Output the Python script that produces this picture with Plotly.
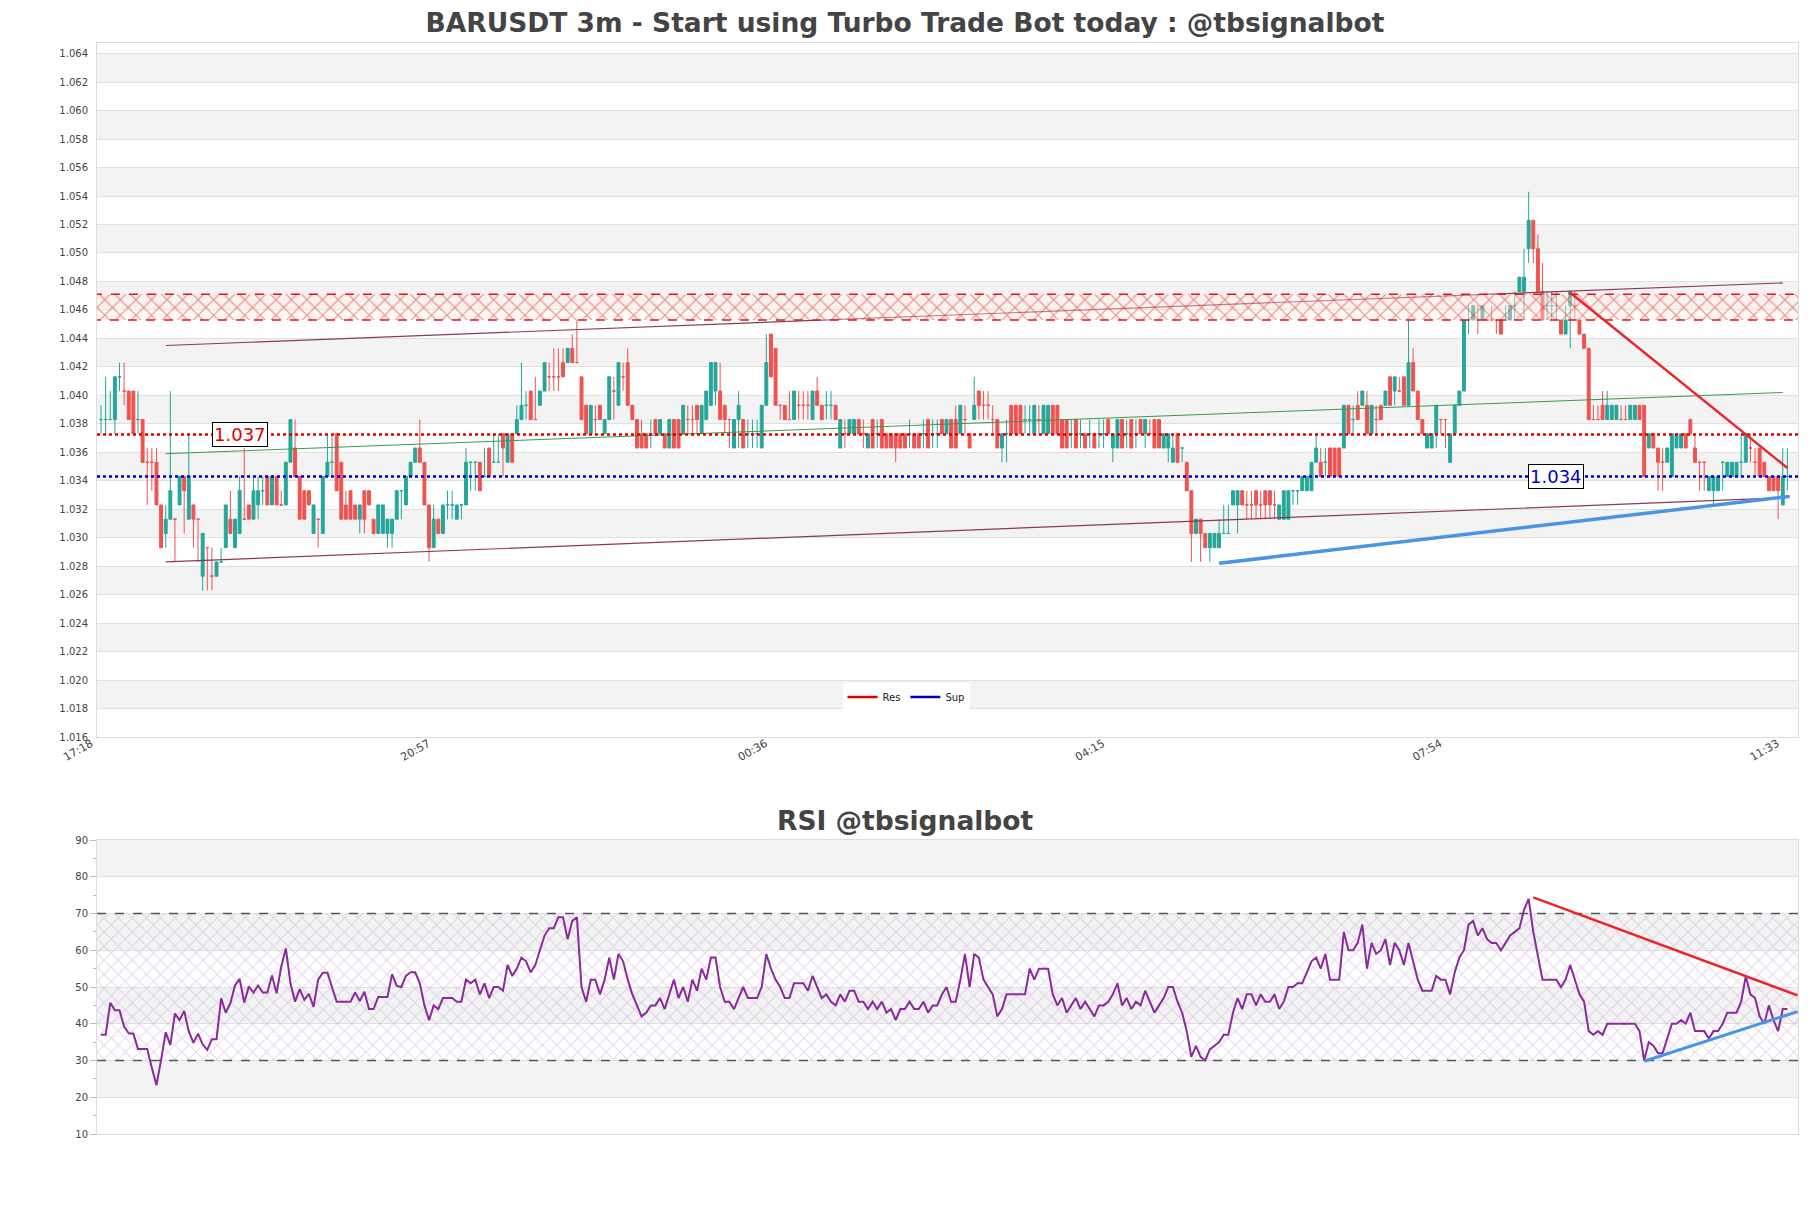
import plotly.graph_objects as go

# ---------------- data ----------------
tick_idx = [0, 73, 146, 219, 292, 365]
tick_labels = ["17:18", "20:57", "00:36", "04:15", "07:54", "11:33"]
price_ticks = [1.016, 1.018, 1.020, 1.022, 1.024, 1.026, 1.028, 1.030, 1.032, 1.034, 1.036, 1.038,
               1.040, 1.042, 1.044, 1.046, 1.048, 1.050, 1.052, 1.054, 1.056, 1.058, 1.060, 1.062, 1.064]
rsi_ticks = [10, 20, 30, 40, 50, 60, 70, 80, 90]

opens = [
 1.0383,1.0383,1.0383,1.0383,1.0413,1.0403,1.0403,1.0403,1.0383,1.0383,
 1.0353,1.0353,1.0353,1.0323,1.0303,1.0313,1.0313,1.0323,1.0343,1.0313,
 1.0323,1.0313,1.0273,1.0293,1.0273,1.0273,1.0283,1.0293,1.0313,1.0293,
 1.0303,1.0313,1.0323,1.0313,1.0323,1.0333,1.0343,1.0323,1.0343,1.0323,
 1.0323,1.0353,1.0363,1.0343,1.0333,1.0333,1.0303,1.0313,1.0303,1.0343,
 1.0353,1.0373,1.0353,1.0323,1.0333,1.0323,1.0313,1.0333,1.0333,1.0313,
 1.0303,1.0303,
 1.0303,1.0303,1.0313,1.0333,1.0323,1.0343,1.0353,1.0363,1.0353,1.0323,
 1.0293,1.0313,1.0303,1.0323,1.0323,1.0313,1.0323,1.0323,1.0353,1.0353,
 1.0353,1.0343,1.0363,1.0353,1.0353,1.0373,1.0353,1.0373,1.0373,1.0383,
 1.0393,1.0403,1.0383,1.0393,1.0403,1.0413,1.0413,1.0413,1.0423,1.0423,
 1.0433,1.0423,1.0413,1.0393,1.0373,1.0383,1.0393,1.0373,1.0383,1.0403,
 1.0393,1.0413,1.0423,1.0393,1.0383,1.0373,1.0373,1.0373,1.0383,1.0373,
 1.0373,
 1.0363,1.0383,1.0383,1.0373,1.0383,1.0383,1.0393,1.0373,1.0383,1.0393,
 1.0403,1.0403,1.0393,1.0383,1.0363,1.0383,1.0383,1.0373,1.0373,1.0373,
 1.0363,1.0393,1.0443,1.0433,1.0393,1.0393,1.0383,1.0383,1.0393,1.0393,
 1.0393,1.0383,1.0403,1.0393,1.0393,1.0393,1.0393,1.0363,1.0373,1.0373,
 1.0373,1.0383,1.0373,1.0363,1.0383,1.0373,1.0383,1.0373,1.0373,1.0373,
 1.0373,1.0373,1.0373,1.0373,1.0373,1.0373,1.0383,1.0373,1.0373,1.0383,
 1.0373,1.0383,
 1.0383,1.0373,1.0383,1.0373,1.0383,1.0403,1.0393,1.0393,1.0383,1.0383,
 1.0363,1.0373,1.0393,1.0393,1.0393,1.0383,1.0383,1.0373,1.0383,1.0373,
 1.0373,1.0393,1.0393,1.0383,1.0383,1.0373,1.0383,1.0373,1.0373,1.0373,
 1.0373,1.0373,1.0373,1.0383,1.0363,1.0363,1.0383,1.0373,1.0383,1.0373,
 1.0383,1.0373,1.0373,1.0383,1.0383,1.0363,1.0363,1.0353,1.0373,1.0363,
 1.0353,1.0333,1.0303,1.0313,1.0303,1.0293,1.0293,1.0293,1.0303,1.0303,
 1.0323,
 1.0323,1.0333,1.0323,1.0323,1.0333,1.0323,1.0333,1.0333,1.0323,1.0313,
 1.0313,1.0313,1.0333,1.0333,1.0333,1.0333,1.0333,1.0353,1.0353,1.0353,
 1.0363,1.0363,1.0363,1.0363,1.0393,1.0383,1.0393,1.0393,1.0393,1.0373,
 1.0383,1.0393,1.0393,1.0413,1.0403,1.0403,1.0413,1.0393,1.0423,1.0403,
 1.0383,1.0363,1.0363,1.0373,1.0383,1.0383,1.0353,1.0373,1.0393,1.0403,
 1.0453,1.0453,1.0453,1.0453,1.0453,1.0453,1.0453,1.0453,1.0453,1.0453,
 1.0463,1.0473,
 1.0473,1.0503,1.0523,1.0503,1.0473,1.0463,1.0463,1.0463,1.0453,1.0443,
 1.0463,1.0463,1.0453,1.0443,1.0433,1.0383,1.0383,1.0393,1.0383,1.0383,
 1.0383,1.0383,1.0383,1.0383,1.0383,1.0393,1.0393,1.0363,1.0373,1.0363,
 1.0353,1.0353,1.0343,1.0363,1.0363,1.0373,1.0383,1.0363,1.0353,1.0353,
 1.0333,1.0333,1.0333,1.0353,1.0343,1.0343,1.0343,1.0353,1.0353,1.0363,
 1.0353,1.0363,1.0353,1.0343,1.0343,1.0343,1.0323,1.0343,
]

closes = [
 1.0383,1.0383,1.0383,1.0413,1.0413,1.0403,1.0383,1.0373,1.0383,1.0353,
 1.0353,1.0353,1.0323,1.0293,1.0313,1.0333,1.0313,1.0343,1.0333,1.0343,
 1.0313,1.0313,1.0303,1.0293,1.0273,1.0283,1.0283,1.0323,1.0303,1.0313,
 1.0333,1.0313,1.0313,1.0333,1.0333,1.0333,1.0323,1.0343,1.0323,1.0323,
 1.0353,1.0383,1.0343,1.0313,1.0313,1.0323,1.0323,1.0313,1.0343,1.0353,
 1.0353,1.0333,1.0313,1.0313,1.0313,1.0313,1.0323,1.0313,1.0323,1.0303,
 1.0323,1.0323,
 1.0313,1.0313,1.0333,1.0333,1.0343,1.0353,1.0363,1.0353,1.0323,1.0293,
 1.0313,1.0303,1.0323,1.0323,1.0323,1.0323,1.0323,1.0353,1.0353,1.0353,
 1.0333,1.0343,1.0343,1.0353,1.0353,1.0363,1.0373,1.0353,1.0383,1.0393,
 1.0393,1.0383,1.0383,1.0403,1.0423,1.0413,1.0413,1.0413,1.0413,1.0433,
 1.0423,1.0423,1.0383,1.0373,1.0393,1.0383,1.0383,1.0383,1.0413,1.0403,
 1.0423,1.0413,1.0393,1.0383,1.0363,1.0363,1.0363,1.0373,1.0373,1.0383,
 1.0363,
 1.0383,1.0363,1.0363,1.0393,1.0383,1.0383,1.0383,1.0393,1.0403,1.0423,
 1.0423,1.0383,1.0383,1.0383,1.0383,1.0393,1.0363,1.0373,1.0373,1.0373,
 1.0393,1.0423,1.0413,1.0393,1.0393,1.0383,1.0383,1.0403,1.0393,1.0393,
 1.0393,1.0403,1.0393,1.0383,1.0393,1.0393,1.0383,1.0383,1.0373,1.0383,
 1.0383,1.0373,1.0373,1.0373,1.0363,1.0373,1.0363,1.0363,1.0363,1.0363,
 1.0363,1.0363,1.0373,1.0363,1.0363,1.0373,1.0363,1.0373,1.0373,1.0373,
 1.0383,1.0363,
 1.0363,1.0393,1.0383,1.0363,1.0393,1.0393,1.0393,1.0393,1.0383,1.0363,
 1.0373,1.0373,1.0373,1.0373,1.0373,1.0383,1.0383,1.0393,1.0383,1.0393,
 1.0393,1.0373,1.0373,1.0363,1.0363,1.0373,1.0363,1.0373,1.0363,1.0373,
 1.0363,1.0373,1.0373,1.0373,1.0373,1.0383,1.0363,1.0373,1.0363,1.0373,
 1.0373,1.0383,1.0373,1.0363,1.0363,1.0373,1.0373,1.0363,1.0353,1.0363,
 1.0333,1.0303,1.0313,1.0303,1.0293,1.0303,1.0303,1.0303,1.0303,1.0303,
 1.0333,
 1.0333,1.0323,1.0323,1.0323,1.0323,1.0323,1.0323,1.0323,1.0323,1.0323,
 1.0333,1.0333,1.0333,1.0333,1.0343,1.0343,1.0353,1.0363,1.0343,1.0353,
 1.0343,1.0343,1.0343,1.0393,1.0373,1.0383,1.0383,1.0403,1.0373,1.0393,
 1.0383,1.0383,1.0403,1.0393,1.0413,1.0403,1.0393,1.0423,1.0403,1.0383,
 1.0373,1.0373,1.0373,1.0393,1.0383,1.0383,1.0373,1.0393,1.0403,1.0453,
 1.0453,1.0463,1.0453,1.0463,1.0453,1.0453,1.0453,1.0443,1.0453,1.0463,
 1.0463,1.0483,
 1.0483,1.0523,1.0503,1.0473,1.0453,1.0463,1.0463,1.0463,1.0443,1.0453,
 1.0473,1.0463,1.0443,1.0433,1.0383,1.0383,1.0383,1.0383,1.0393,1.0393,
 1.0393,1.0383,1.0383,1.0393,1.0393,1.0383,1.0343,1.0373,1.0363,1.0353,
 1.0353,1.0363,1.0373,1.0373,1.0373,1.0363,1.0373,1.0353,1.0353,1.0353,
 1.0343,1.0343,1.0343,1.0353,1.0353,1.0353,1.0353,1.0353,1.0373,1.0363,
 1.0353,1.0343,1.0343,1.0333,1.0333,1.0333,1.0343,1.0343,
]

highs = [
 1.0393,1.0413,1.0403,1.0413,1.0423,1.0423,1.0403,1.0403,1.0403,1.0383,
 1.0363,1.0363,1.0363,1.0323,1.0323,1.0403,1.0313,1.0343,1.0343,1.0373,
 1.0323,1.0313,1.0303,1.0293,1.0293,1.0283,1.0293,1.0323,1.0333,1.0313,
 1.0343,1.0363,1.0323,1.0343,1.0343,1.0343,1.0343,1.0343,1.0343,1.0333,
 1.0353,1.0383,1.0383,1.0343,1.0333,1.0333,1.0323,1.0313,1.0343,1.0373,
 1.0373,1.0373,1.0353,1.0333,1.0333,1.0323,1.0323,1.0333,1.0333,1.0313,
 1.0323,1.0323,
 1.0313,1.0313,1.0333,1.0333,1.0343,1.0353,1.0363,1.0383,1.0353,1.0323,
 1.0323,1.0313,1.0323,1.0333,1.0333,1.0323,1.0323,1.0363,1.0353,1.0353,
 1.0353,1.0363,1.0363,1.0373,1.0373,1.0373,1.0373,1.0373,1.0393,1.0423,
 1.0403,1.0403,1.0413,1.0403,1.0423,1.0423,1.0433,1.0433,1.0433,1.0433,
 1.0443,1.0453,1.0413,1.0393,1.0393,1.0393,1.0393,1.0383,1.0413,1.0413,
 1.0423,1.0423,1.0433,1.0393,1.0383,1.0383,1.0373,1.0383,1.0383,1.0383,
 1.0373,
 1.0383,1.0383,1.0383,1.0393,1.0393,1.0393,1.0393,1.0393,1.0403,1.0423,
 1.0423,1.0423,1.0393,1.0383,1.0383,1.0403,1.0383,1.0383,1.0383,1.0383,
 1.0393,1.0443,1.0443,1.0433,1.0393,1.0393,1.0403,1.0403,1.0403,1.0403,
 1.0403,1.0403,1.0413,1.0393,1.0403,1.0403,1.0393,1.0383,1.0383,1.0383,
 1.0383,1.0383,1.0383,1.0373,1.0383,1.0383,1.0383,1.0373,1.0373,1.0373,
 1.0373,1.0373,1.0383,1.0373,1.0373,1.0383,1.0383,1.0383,1.0383,1.0383,
 1.0383,1.0383,
 1.0393,1.0393,1.0393,1.0373,1.0413,1.0403,1.0403,1.0403,1.0393,1.0383,
 1.0373,1.0383,1.0393,1.0393,1.0393,1.0393,1.0393,1.0393,1.0393,1.0393,
 1.0393,1.0393,1.0393,1.0383,1.0383,1.0383,1.0383,1.0383,1.0373,1.0383,
 1.0373,1.0383,1.0383,1.0383,1.0373,1.0383,1.0383,1.0383,1.0383,1.0383,
 1.0383,1.0383,1.0383,1.0383,1.0383,1.0373,1.0373,1.0373,1.0373,1.0363,
 1.0353,1.0333,1.0313,1.0313,1.0303,1.0303,1.0303,1.0313,1.0323,1.0323,
 1.0333,
 1.0333,1.0333,1.0333,1.0333,1.0333,1.0333,1.0333,1.0333,1.0333,1.0323,
 1.0333,1.0333,1.0333,1.0333,1.0343,1.0343,1.0353,1.0373,1.0363,1.0363,
 1.0363,1.0363,1.0363,1.0393,1.0393,1.0393,1.0403,1.0403,1.0403,1.0393,
 1.0393,1.0393,1.0403,1.0413,1.0413,1.0413,1.0413,1.0453,1.0433,1.0403,
 1.0383,1.0373,1.0373,1.0393,1.0383,1.0383,1.0373,1.0393,1.0403,1.0453,
 1.0463,1.0463,1.0463,1.0463,1.0453,1.0463,1.0453,1.0453,1.0463,1.0463,
 1.0473,1.0483,
 1.0503,1.0543,1.0523,1.0513,1.0493,1.0473,1.0473,1.0473,1.0453,1.0463,
 1.0473,1.0473,1.0453,1.0443,1.0433,1.0393,1.0393,1.0403,1.0403,1.0393,
 1.0393,1.0393,1.0393,1.0393,1.0393,1.0393,1.0393,1.0373,1.0373,1.0363,
 1.0363,1.0363,1.0373,1.0373,1.0373,1.0373,1.0383,1.0373,1.0353,1.0353,
 1.0343,1.0343,1.0343,1.0353,1.0353,1.0353,1.0353,1.0373,1.0373,1.0373,
 1.0363,1.0363,1.0353,1.0343,1.0343,1.0343,1.0363,1.0363,
]

lows = [
 1.0373,1.0373,1.0383,1.0373,1.0403,1.0393,1.0383,1.0373,1.0373,1.0353,
 1.0323,1.0333,1.0323,1.0293,1.0293,1.0313,1.0283,1.0323,1.0303,1.0313,
 1.0293,1.0283,1.0263,1.0263,1.0263,1.0273,1.0283,1.0293,1.0303,1.0293,
 1.0303,1.0313,1.0313,1.0313,1.0313,1.0323,1.0323,1.0323,1.0323,1.0323,
 1.0323,1.0353,1.0343,1.0313,1.0313,1.0323,1.0303,1.0293,1.0303,1.0343,
 1.0343,1.0333,1.0313,1.0313,1.0313,1.0313,1.0303,1.0303,1.0323,1.0303,
 1.0303,1.0303,
 1.0293,1.0293,1.0313,1.0313,1.0323,1.0343,1.0353,1.0353,1.0323,1.0283,
 1.0293,1.0303,1.0303,1.0313,1.0313,1.0313,1.0313,1.0323,1.0333,1.0333,
 1.0333,1.0343,1.0343,1.0353,1.0353,1.0343,1.0353,1.0353,1.0373,1.0383,
 1.0383,1.0383,1.0383,1.0393,1.0403,1.0403,1.0403,1.0403,1.0413,1.0423,
 1.0423,1.0423,1.0383,1.0373,1.0373,1.0373,1.0383,1.0373,1.0383,1.0383,
 1.0393,1.0403,1.0393,1.0383,1.0363,1.0363,1.0363,1.0363,1.0373,1.0373,
 1.0363,
 1.0363,1.0363,1.0363,1.0373,1.0373,1.0373,1.0373,1.0373,1.0383,1.0393,
 1.0393,1.0383,1.0373,1.0363,1.0363,1.0363,1.0363,1.0363,1.0363,1.0363,
 1.0363,1.0393,1.0413,1.0393,1.0383,1.0383,1.0383,1.0383,1.0383,1.0383,
 1.0383,1.0383,1.0393,1.0383,1.0383,1.0383,1.0383,1.0363,1.0363,1.0373,
 1.0373,1.0373,1.0363,1.0363,1.0363,1.0363,1.0363,1.0363,1.0363,1.0353,
 1.0363,1.0363,1.0363,1.0363,1.0363,1.0363,1.0363,1.0363,1.0363,1.0373,
 1.0373,1.0363,
 1.0363,1.0373,1.0373,1.0363,1.0383,1.0383,1.0383,1.0383,1.0373,1.0363,
 1.0353,1.0353,1.0373,1.0373,1.0373,1.0373,1.0373,1.0373,1.0373,1.0373,
 1.0373,1.0373,1.0373,1.0363,1.0363,1.0363,1.0363,1.0363,1.0363,1.0363,
 1.0363,1.0363,1.0363,1.0373,1.0353,1.0363,1.0363,1.0363,1.0363,1.0363,
 1.0373,1.0363,1.0373,1.0363,1.0363,1.0363,1.0353,1.0353,1.0353,1.0353,
 1.0333,1.0283,1.0303,1.0283,1.0293,1.0283,1.0293,1.0293,1.0303,1.0303,
 1.0323,
 1.0303,1.0323,1.0313,1.0313,1.0313,1.0313,1.0313,1.0313,1.0313,1.0313,
 1.0313,1.0313,1.0323,1.0323,1.0333,1.0333,1.0333,1.0353,1.0343,1.0343,
 1.0343,1.0343,1.0343,1.0363,1.0373,1.0373,1.0383,1.0393,1.0373,1.0373,
 1.0373,1.0383,1.0393,1.0393,1.0393,1.0403,1.0393,1.0393,1.0403,1.0383,
 1.0373,1.0363,1.0363,1.0363,1.0373,1.0363,1.0353,1.0373,1.0393,1.0403,
 1.0443,1.0453,1.0443,1.0453,1.0453,1.0453,1.0443,1.0443,1.0453,1.0453,
 1.0453,1.0473,
 1.0453,1.0493,1.0493,1.0473,1.0453,1.0453,1.0453,1.0453,1.0443,1.0443,
 1.0433,1.0453,1.0443,1.0433,1.0383,1.0383,1.0383,1.0383,1.0383,1.0383,
 1.0383,1.0383,1.0383,1.0383,1.0383,1.0383,1.0343,1.0363,1.0363,1.0333,
 1.0333,1.0353,1.0343,1.0363,1.0363,1.0363,1.0373,1.0353,1.0333,1.0333,
 1.0333,1.0323,1.0333,1.0333,1.0343,1.0343,1.0343,1.0343,1.0353,1.0353,
 1.0343,1.0343,1.0343,1.0333,1.0333,1.0313,1.0323,1.0333,
]

rsi = [
 37, 37, 45.7, 43.7, 43.7, 39.2, 37.4, 37.3, 33.1, 33.1,
 33.1, 28, 23.3, 30.1, 37.7, 34.2, 42.8, 41, 43.5, 37.9,
 34.8, 37.3, 34.4, 32.9, 35.8, 35.8, 46.9, 43, 45.6, 50.4,
 52.2, 45.8, 50.1, 48.5, 50.4, 48.5, 48.5, 53.1, 48.3, 55.5,
 60.5, 51, 46, 49.4, 46.5, 48.1, 44.6, 52, 53.9, 53.9,
 50.1, 46, 46, 46, 46, 48.5, 46.2, 48.7, 44, 44,
 47.3, 47.3, 47.3, 53.5, 50.3, 50, 53, 54, 54, 51,
 45, 41, 45, 44, 47, 47, 47, 46, 46, 52,
 51, 52, 48, 51, 47, 50, 50, 49, 56, 53,
 55, 58, 57, 54, 56, 60, 64, 66, 66, 69,
 69, 63, 68, 69, 50, 46, 52, 52, 48, 52,
 58, 52, 59, 57, 52, 48, 45, 42, 43, 45,
 45, 47, 44, 48, 52, 47, 50, 46, 52, 49,
 55, 52, 58, 58, 50, 46, 46, 44, 47, 50,
 47, 47, 47, 50, 59, 55, 52, 50, 47, 47,
 51, 51, 51, 49, 53, 50, 47, 48, 46, 45,
 48, 46, 49, 49, 46, 46, 44, 46, 44, 46,
 43, 44, 41, 44, 44, 46, 44, 44, 46, 43,
 45, 45, 48, 50, 46, 46, 52, 59, 50, 59,
 58, 52, 50, 48, 42, 44, 48, 48, 48, 48,
 48, 55, 52, 55, 55, 55, 48, 45, 47, 43,
 45, 47, 44, 46, 44, 42, 45, 45, 46, 48,
 51, 45, 47, 44, 46, 45, 49, 46, 43, 45,
 47, 50, 50, 46, 43, 38, 31, 34, 31, 30,
 33, 34, 35, 37, 37, 43, 47, 44, 48, 48,
 45, 48, 46, 46, 48, 44, 46, 50, 50, 51,
 51, 54, 57, 58, 55, 59, 52, 52, 52, 65,
 60, 60, 62, 67, 55, 62, 59, 60, 63, 56,
 62, 60, 56, 62, 57, 52, 49, 49, 49, 53,
 52, 52, 48, 54, 58, 60, 67, 68, 64, 66,
 63, 62, 62, 60, 62, 64, 65, 66, 71, 74,
 65, 58, 52, 52, 52, 52, 50, 52, 56, 52,
 48, 46, 38, 37, 38, 37, 40, 40, 40, 40,
 40, 40, 40, 38, 30, 35, 34, 32, 32, 36,
 40, 40, 41, 40, 43, 38, 38, 38, 36, 38,
 38, 40, 43, 43, 43, 46, 53, 48, 47, 42,
 40, 45, 41, 38, 44, 44,
]

res_level = 1.03725
sup_level = 1.0343
zone_low, zone_high = 1.0453, 1.0471
channel_upper_x, channel_upper_y = [14, 364], [1.0435, 1.0479]
channel_lower_x, channel_lower_y = [14, 364], [1.0283, 1.0328]
channel_mid_x, channel_mid_y = [14, 364], [1.0359, 1.0402]
price_down_x, price_down_y = [318, 365], [1.0472, 1.0349]
price_up_x, price_up_y = [242, 365.5], [1.0282, 1.0329]
rsi_down_x, rsi_down_y = [310, 367.2], [74.4, 47.7]
rsi_up_x, rsi_up_y = [334, 367.2], [29.8, 43.3]
rsi_ob, rsi_os = 70, 30
res_label_x, sup_label_x = 30, 315

# ---------------- figure ----------------
x = list(range(len(opens)))
x_lo, x_hi = -0.87, 367.3
p_lo, p_hi = 1.016, 1.06475
r_lo, r_hi = 10, 90
FONT = "DejaVu Sans"
GREEN, RED = "#26a69a", "#ef5350"
W, H = 1803, 1200  # page body has an 8px margin
M_L, M_R, M_T, M_B = 89, 13, 35, 74
PLOT_H = H - M_T - M_B

fig = go.Figure()

shapes = []
for k in range(1, len(price_ticks) - 1, 2):
    shapes.append(dict(type="rect", xref="x domain", yref="y", x0=0, x1=1,
                       y0=price_ticks[k], y1=price_ticks[k + 1],
                       fillcolor="#f3f3f3", line=dict(width=0), layer="below"))
for k in range(1, len(rsi_ticks) - 1, 2):
    shapes.append(dict(type="rect", xref="x2 domain", yref="y2", x0=0, x1=1,
                       y0=rsi_ticks[k], y1=rsi_ticks[k + 1],
                       fillcolor="#f3f3f3", line=dict(width=0), layer="below"))

fig.add_trace(go.Scatter(x=channel_upper_x, y=channel_upper_y, mode="lines",
                         line=dict(color="#8b3a50", width=1.2), showlegend=False, hoverinfo="skip"))
fig.add_trace(go.Scatter(x=channel_lower_x, y=channel_lower_y, mode="lines",
                         line=dict(color="#8b3a50", width=1.2), showlegend=False, hoverinfo="skip"))
fig.add_trace(go.Scatter(x=channel_mid_x, y=channel_mid_y, mode="lines",
                         line=dict(color="#3a9a4a", width=1), showlegend=False, hoverinfo="skip"))

fig.add_trace(go.Candlestick(
    x=x, open=opens, high=highs, low=lows, close=closes,
    increasing=dict(line=dict(color=GREEN, width=1), fillcolor=GREEN),
    decreasing=dict(line=dict(color=RED, width=1), fillcolor=RED),
    whiskerwidth=0, showlegend=False, xaxis="x", yaxis="y"))

zx = [x_lo - 5, x_hi + 5, x_hi + 5, x_lo - 5, x_lo - 5]
fig.add_trace(go.Scatter(x=zx, y=[zone_low, zone_low, zone_high, zone_high, zone_low],
                         mode="lines", fill="toself", fillcolor="rgba(0,0,0,0)",
                         fillpattern=dict(shape="x", fgcolor="#e01818", bgcolor="rgba(255,240,232,0.4)",
                                          size=11, solidity=0.2),
                         line=dict(color="#e01818", width=1.5, dash="dash"),
                         showlegend=False, hoverinfo="skip"))

fig.add_trace(go.Scatter(x=[x_lo, x_hi], y=[res_level, res_level], mode="lines",
                         line=dict(color="#dd0000", width=2.5, dash="dot"),
                         showlegend=False, hoverinfo="skip"))
fig.add_trace(go.Scatter(x=[x_lo, x_hi], y=[sup_level, sup_level], mode="lines",
                         line=dict(color="#0000bb", width=2.5, dash="dot"),
                         showlegend=False, hoverinfo="skip"))
fig.add_trace(go.Scatter(x=[None], y=[None], mode="lines", name="Res",
                         line=dict(color="#dd0000", width=2.5)))
fig.add_trace(go.Scatter(x=[None], y=[None], mode="lines", name="Sup",
                         line=dict(color="#0000bb", width=2.5)))

fig.add_trace(go.Scatter(x=price_down_x, y=price_down_y, mode="lines",
                         line=dict(color="#e8262b", width=2.5), showlegend=False, hoverinfo="skip"))
fig.add_trace(go.Scatter(x=price_up_x, y=price_up_y, mode="lines",
                         line=dict(color="#4a94e8", width=3.5), showlegend=False, hoverinfo="skip"))

fig.add_trace(go.Scatter(x=[x_lo - 5, x_hi + 5, x_hi + 5, x_lo - 5, x_lo - 5],
                         y=[rsi_os, rsi_os, rsi_ob, rsi_ob, rsi_os], mode="none", fill="toself",
                         fillcolor="rgba(0,0,0,0)",
                         fillpattern=dict(shape="x", fgcolor="#c4b0d2", bgcolor="rgba(0,0,0,0)",
                                          size=10, solidity=0.18),
                         xaxis="x2", yaxis="y2", showlegend=False, hoverinfo="skip"))
for lvl in (rsi_ob, rsi_os):
    fig.add_trace(go.Scatter(x=[x_lo, x_hi], y=[lvl, lvl], mode="lines",
                             line=dict(color="#555555", width=1.3, dash="dash"),
                             xaxis="x2", yaxis="y2", showlegend=False, hoverinfo="skip"))
fig.add_trace(go.Scatter(x=x, y=rsi, mode="lines", line=dict(color="#8a2a9c", width=2),
                         xaxis="x2", yaxis="y2", showlegend=False))
fig.add_trace(go.Scatter(x=rsi_down_x, y=rsi_down_y, mode="lines",
                         line=dict(color="#e8262b", width=2.5), xaxis="x2", yaxis="y2",
                         showlegend=False, hoverinfo="skip"))
fig.add_trace(go.Scatter(x=rsi_up_x, y=rsi_up_y, mode="lines",
                         line=dict(color="#4a94e8", width=3), xaxis="x2", yaxis="y2",
                         showlegend=False, hoverinfo="skip"))

main_bottom = (1134 - 737) / PLOT_H
rsi_top = (1134 - 840) / PLOT_H

annotations = [
    dict(x=res_label_x, y=res_level, xref="x", yref="y", text=f"{res_level:.3f}", showarrow=False,
         font=dict(family=FONT, size=18, color="#dd0000"), bgcolor="white",
         bordercolor="black", borderwidth=1, borderpad=1),
    dict(x=sup_label_x, y=sup_level, xref="x", yref="y", text=f"{sup_level:.3f}", showarrow=False,
         font=dict(family=FONT, size=18, color="#0000cc"), bgcolor="white",
         bordercolor="black", borderwidth=1, borderpad=1),
    dict(x=(905 - 97) / 1701, y=(1134 - 820) / PLOT_H, xref="paper", yref="paper",
         xanchor="center", yanchor="middle",
         text="<b>RSI @tbsignalbot</b>", showarrow=False,
         font=dict(family=FONT, size=26.5, color="#444444")),
]

axis_common = dict(showline=True, mirror=True, linecolor="#dcdcdc", linewidth=1, zeroline=False)

fig.update_layout(
    width=W, height=H, autosize=False,
    margin=dict(l=M_L, r=M_R, t=M_T, b=M_B),
    paper_bgcolor="white", plot_bgcolor="white",
    font=dict(family=FONT, color="#444444", size=10),
    title=dict(text="<b>BARUSDT 3m - Start using Turbo Trade Bot today : @tbsignalbot</b>",
               x=(905 - 8) / W, xanchor="center", y=1 - 15 / H, yanchor="middle",
               font=dict(family=FONT, size=26.5, color="#444444")),
    boxgap=0.1,
    xaxis=dict(domain=[0, 1], anchor="y", range=[x_lo, x_hi], tickmode="array",
               tickvals=tick_idx, ticktext=tick_labels, tickangle=-30, showgrid=False,
               ticklabelshift=-10, ticklabelstandoff=-5,
               rangeslider=dict(visible=False), tickfont=dict(size=11, color="#444444"),
               **axis_common),
    yaxis=dict(domain=[main_bottom, 1], anchor="x", range=[p_lo, p_hi], tickmode="array",
               tickvals=price_ticks, tickformat=".3f", showgrid=True, gridcolor="#e0e0e0",
               ticks="outside", ticklen=6, tickcolor="rgba(0,0,0,0)",
               tickfont=dict(size=10, color="#444444"), **axis_common),
    xaxis2=dict(domain=[0, 1], anchor="y2", range=[x_lo, x_hi], matches="x",
                showticklabels=False, showgrid=False, **axis_common),
    yaxis2=dict(domain=[0, rsi_top], anchor="x2", range=[r_lo, r_hi], tickmode="array",
                tickvals=rsi_ticks, showgrid=True, gridcolor="#e0e0e0",
                ticks="outside", ticklen=6, tickcolor="#bbbbbb",
                minor=dict(dtick=5, tick0=5, ticks="outside", ticklen=3, tickcolor="#bbbbbb",
                           showgrid=False),
                tickfont=dict(size=10, color="#444444"), **axis_common),
    legend=dict(orientation="h", x=(906 - 97) / 1701, y=(1134 - 697) / PLOT_H,
                xanchor="center", yanchor="middle",
                bgcolor="white", font=dict(size=10, color="#222222"), itemwidth=30),
    shapes=shapes,
    annotations=annotations,
)

fig.write_html("out.html")
